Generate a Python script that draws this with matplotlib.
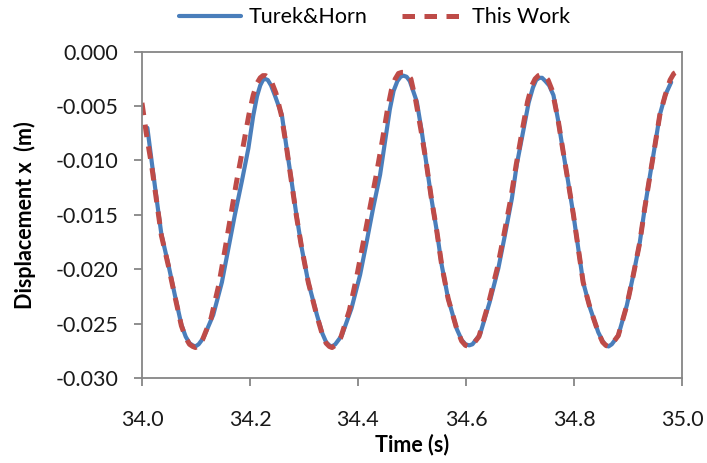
import matplotlib
matplotlib.use('Agg')
import matplotlib.pyplot as plt

#Displacement x over time
#Turek&Horn benchmark (blue solid)
t_turek = [34.010, 34.018, 34.027, 34.036, 34.049, 34.061, 34.073, 34.081, 34.088, 34.094,
           34.099, 34.105, 34.114, 34.132, 34.148, 34.160, 34.172, 34.185, 34.197, 34.206,
           34.213, 34.219, 34.224, 34.228, 34.233, 34.239, 34.246, 34.259, 34.268, 34.277,
           34.286, 34.296, 34.308, 34.324, 34.334, 34.341, 34.347, 34.352, 34.358, 34.370,
           34.388, 34.404, 34.416, 34.428, 34.441, 34.450, 34.459, 34.466, 34.473, 34.479,
           34.484, 34.490, 34.496, 34.509, 34.518, 34.527, 34.536, 34.546, 34.555, 34.567,
           34.583, 34.592, 34.599, 34.606, 34.612, 34.626, 34.644, 34.660, 34.672, 34.685,
           34.694, 34.706, 34.716, 34.724, 34.730, 34.736, 34.741, 34.747, 34.754, 34.762,
           34.771, 34.780, 34.789, 34.799, 34.808, 34.817, 34.830, 34.845, 34.853, 34.859,
           34.864, 34.870, 34.882, 34.898, 34.910, 34.922, 34.931, 34.941, 34.950, 34.959,
           34.969, 34.980]
x_turek = [-0.0070, -0.0101, -0.0135, -0.0168, -0.0196, -0.0224, -0.0251, -0.0262, -0.0268, -0.0270,
           -0.0271, -0.0269, -0.0263, -0.0242, -0.0212, -0.0181, -0.0150, -0.0119, -0.0089, -0.0059,
           -0.0041, -0.0031, -0.0026, -0.0025, -0.0026, -0.0031, -0.0040, -0.0058, -0.0089, -0.0119,
           -0.0150, -0.0181, -0.0212, -0.0242, -0.0259, -0.0267, -0.0270, -0.0271, -0.0269, -0.0261,
           -0.0236, -0.0205, -0.0175, -0.0144, -0.0113, -0.0083, -0.0053, -0.0036, -0.0027, -0.0023,
           -0.0022, -0.0023, -0.0027, -0.0046, -0.0073, -0.0104, -0.0135, -0.0165, -0.0196, -0.0227,
           -0.0255, -0.0265, -0.0269, -0.0270, -0.0269, -0.0260, -0.0230, -0.0199, -0.0169, -0.0135,
           -0.0104, -0.0073, -0.0047, -0.0033, -0.0026, -0.0024, -0.0024, -0.0027, -0.0031, -0.0040,
           -0.0064, -0.0092, -0.0119, -0.0150, -0.0181, -0.0212, -0.0236, -0.0258, -0.0266, -0.0270,
           -0.0271, -0.0269, -0.0261, -0.0233, -0.0205, -0.0175, -0.0144, -0.0113, -0.0086, -0.0058,
           -0.0040, -0.0028]

#This Work (red dashed)
t_work = [34.000, 34.008, 34.018, 34.027, 34.036, 34.049, 34.061, 34.073, 34.081, 34.088,
          34.094, 34.099, 34.105, 34.112, 34.128, 34.142, 34.153, 34.164, 34.175, 34.187,
          34.198, 34.206, 34.213, 34.219, 34.224, 34.229, 34.235, 34.241, 34.248, 34.258,
          34.268, 34.277, 34.286, 34.296, 34.308, 34.324, 34.334, 34.341, 34.347, 34.352,
          34.358, 34.368, 34.384, 34.398, 34.410, 34.422, 34.434, 34.445, 34.455, 34.462,
          34.469, 34.475, 34.481, 34.486, 34.492, 34.498, 34.507, 34.517, 34.527, 34.536,
          34.546, 34.555, 34.567, 34.583, 34.592, 34.599, 34.606, 34.613, 34.624, 34.642,
          34.658, 34.670, 34.683, 34.693, 34.704, 34.714, 34.722, 34.728, 34.734, 34.739,
          34.745, 34.752, 34.760, 34.771, 34.780, 34.789, 34.799, 34.808, 34.817, 34.830,
          34.845, 34.853, 34.859, 34.864, 34.870, 34.882, 34.898, 34.910, 34.922, 34.931,
          34.941, 34.950, 34.959, 34.969, 34.978, 34.985, 34.992, 35.000]
x_work = [-0.0047, -0.0075, -0.0105, -0.0137, -0.0169, -0.0197, -0.0225, -0.0252, -0.0263, -0.0269,
          -0.0271, -0.0272, -0.0270, -0.0265, -0.0245, -0.0215, -0.0184, -0.0152, -0.0120, -0.0088,
          -0.0058, -0.0040, -0.0029, -0.0024, -0.0022, -0.0022, -0.0024, -0.0029, -0.0038, -0.0058,
          -0.0089, -0.0120, -0.0151, -0.0181, -0.0212, -0.0243, -0.0260, -0.0268, -0.0271, -0.0272,
          -0.0270, -0.0263, -0.0238, -0.0206, -0.0175, -0.0144, -0.0113, -0.0082, -0.0052, -0.0035,
          -0.0025, -0.0020, -0.0019, -0.0019, -0.0021, -0.0025, -0.0045, -0.0073, -0.0104, -0.0135,
          -0.0165, -0.0196, -0.0227, -0.0255, -0.0266, -0.0270, -0.0271, -0.0269, -0.0262, -0.0231,
          -0.0199, -0.0169, -0.0135, -0.0104, -0.0073, -0.0046, -0.0031, -0.0025, -0.0022, -0.0021,
          -0.0022, -0.0026, -0.0036, -0.0064, -0.0092, -0.0119, -0.0150, -0.0181, -0.0212, -0.0236,
          -0.0258, -0.0267, -0.0270, -0.0271, -0.0269, -0.0261, -0.0233, -0.0205, -0.0175, -0.0144,
          -0.0113, -0.0086, -0.0058, -0.0040, -0.0026, -0.0020, -0.0018, -0.0017]

x_ticks = [34.0, 34.2, 34.4, 34.6, 34.8, 35.0]
y_ticks = [0.000, -0.005, -0.010, -0.015, -0.020, -0.025, -0.030]

plt.rcParams['font.family'] = ['Lato', 'DejaVu Sans']
grey = '#868686'
fs = 15.5

fig = plt.figure(figsize=(7.07, 4.63), dpi=100)
ax = fig.add_axes([0.2008, 0.1836, 0.7638, 0.7047])

ax.plot(t_turek, x_turek, color='#4a7ebb', lw=3.0, label='Turek&Horn',
        solid_joinstyle='round', solid_capstyle='round')
ax.plot(t_work, x_work, color='#be4b48', lw=3.6, dashes=(2.5, 1.9), label='This Work',
        dash_joinstyle='round')

ax.set_xlim(34.0, 35.0)
ax.set_ylim(-0.030, 0.000)
ax.set_xticks(x_ticks)
ax.set_xticklabels([f'{v:.1f}' for v in x_ticks])
ax.set_yticks(y_ticks)
ax.set_yticklabels([f'{v:.3f}' for v in y_ticks])

for s in ax.spines.values():
    s.set_color(grey)
    s.set_linewidth(1.3)
ax.tick_params(axis='both', direction='out', length=6, width=1.3, color=grey,
               labelsize=fs, labelcolor='#1a1a1a')
ax.tick_params(axis='y', pad=11)
ax.tick_params(axis='x', pad=17)

ax.set_xlabel('Time (s)', fontsize=fs, fontweight='bold', labelpad=3)
ax.set_ylabel('Displacement x  (m)', fontsize=fs, fontweight='bold', labelpad=14)

fig.legend(loc='center', bbox_to_anchor=(0.53, 0.963), ncol=2, frameon=False,
           fontsize=fs, handlelength=2.9, columnspacing=1.6, handletextpad=0.35)

fig.savefig('out.png', dpi=100)
